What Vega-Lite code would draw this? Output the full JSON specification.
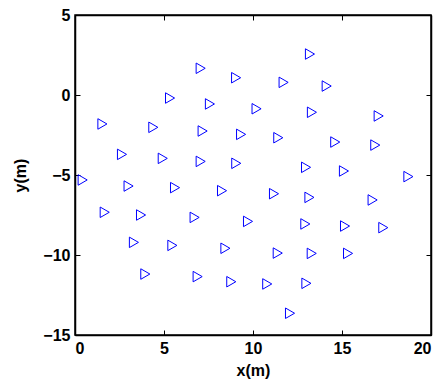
{
  "$schema": "https://vega.github.io/schema/vega-lite/v6.json",
  "autosize": "none",
  "width": 356,
  "height": 320,
  "padding": {"left": 75, "top": 15, "right": 12, "bottom": 50},
  "background": "white",
  "config": {
    "view": {"stroke": "black", "strokeWidth": 1.5},
    "axis": {
      "grid": false,
      "domainColor": "black",
      "domainWidth": 1.5,
      "tickColor": "black",
      "tickWidth": 1,
      "tickSize": -5,
      "labelFont": "Liberation Sans",
      "labelFontWeight": "bold",
      "labelFontSize": 16,
      "labelColor": "black",
      "titleFont": "Liberation Sans",
      "titleFontWeight": "bold",
      "titleFontSize": 16,
      "titleColor": "black"
    }
  },
  "data": {"values": [
    {"x": 7.06, "y": 1.67}, {"x": 9.05, "y": 1.08}, {"x": 5.34, "y": -0.19},
    {"x": 7.58, "y": -0.56}, {"x": 10.2, "y": -0.86}, {"x": 1.54, "y": -1.81},
    {"x": 4.4, "y": -2.02}, {"x": 7.17, "y": -2.25}, {"x": 9.33, "y": -2.46},
    {"x": 2.64, "y": -3.71}, {"x": 4.93, "y": -3.96}, {"x": 7.06, "y": -4.15},
    {"x": 9.06, "y": -4.27},
    {"x": 13.2, "y": 2.56}, {"x": 11.72, "y": 0.79}, {"x": 14.14, "y": 0.56},
    {"x": 13.31, "y": -1.08}, {"x": 17.06, "y": -1.31}, {"x": 11.42, "y": -2.67},
    {"x": 14.62, "y": -2.94}, {"x": 16.87, "y": -3.13},
    {"x": 12.98, "y": -4.52}, {"x": 15.11, "y": -4.75}, {"x": 18.73, "y": -5.1},
    {"x": 11.18, "y": -6.17}, {"x": 13.17, "y": -6.4}, {"x": 16.72, "y": -6.56},
    {"x": 9.72, "y": -7.9}, {"x": 12.94, "y": -8.06}, {"x": 15.17, "y": -8.19},
    {"x": 17.32, "y": -8.29}, {"x": 11.39, "y": -9.88}, {"x": 13.3, "y": -9.9},
    {"x": 15.34, "y": -9.9}, {"x": 10.8, "y": -11.81}, {"x": 13.0, "y": -11.77},
    {"x": 12.08, "y": -13.64},
    {"x": 0.43, "y": -5.31}, {"x": 3.01, "y": -5.69}, {"x": 5.62, "y": -5.79},
    {"x": 8.26, "y": -5.98}, {"x": 1.67, "y": -7.33}, {"x": 3.71, "y": -7.5},
    {"x": 6.72, "y": -7.65}, {"x": 3.31, "y": -9.21}, {"x": 5.47, "y": -9.4},
    {"x": 8.45, "y": -9.58}, {"x": 3.95, "y": -11.19}, {"x": 6.89, "y": -11.35},
    {"x": 8.78, "y": -11.67}
  ]},
  "layer": [
    {
      "mark": {"type": "point", "shape": "triangle-right", "filled": false, "stroke": "#0000ff", "strokeWidth": 1, "size": 110, "opacity": 1},
      "encoding": {
        "x": {"field": "x", "type": "quantitative", "scale": {"domain": [0, 20], "nice": false, "zero": false},
          "axis": {"orient": "bottom", "values": [0, 5, 10, 15, 20], "title": "x(m)", "labelPadding": 10, "titlePadding": 6}},
        "y": {"field": "y", "type": "quantitative", "scale": {"domain": [-15, 5], "nice": false, "zero": false},
          "axis": {"orient": "left", "values": [-15, -10, -5, 0, 5], "title": "y(m)", "labelPadding": 10, "titlePadding": 14}}
      }
    },
    {
      "mark": {"type": "point", "opacity": 0},
      "encoding": {
        "x": {"field": "x", "type": "quantitative", "scale": {"domain": [0, 20], "nice": false, "zero": false},
          "axis": {"orient": "top", "values": [0, 5, 10, 15, 20], "labels": false, "title": null}},
        "y": {"field": "y", "type": "quantitative", "scale": {"domain": [-15, 5], "nice": false, "zero": false},
          "axis": {"orient": "right", "values": [-15, -10, -5, 0, 5], "labels": false, "title": null}}
      }
    }
  ],
  "resolve": {"axis": {"x": "independent", "y": "independent"}}
}
